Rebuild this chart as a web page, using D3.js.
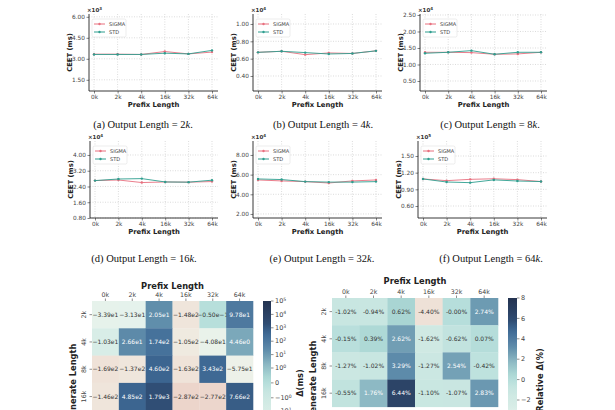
<!DOCTYPE html>
<html><head><meta charset="utf-8">
<script src="https://cdn.jsdelivr.net/npm/d3@7"></script>
<style>
body{margin:0;background:#fff;}
svg{display:block;font-family:"DejaVu Sans",sans-serif;}
</style>
</head><body>
<svg id="chart" width="615" height="410"></svg>
<script>
// ---------------- data ----------------
const prefixes = ["0k","2k","4k","16k","32k","64k"];
const seriesNames = ["SIGMA","STD"];
const outputLengths = ["2","4","8","16","32","64"];
const panelLetters = ["a","b","c","d","e","f"];
const scaleExponents = [3,4,4,4,4,5];

// CEET (ms), in units of 10^exponent
const sigma2k  = [3.33,3.33,3.31,3.52,3.35,3.48];
const std2k    = [3.31,3.31,3.31,3.40,3.35,3.60];
const sigma4k  = [0.673,0.685,0.646,0.666,0.660,0.690];
const std4k    = [0.673,0.685,0.670,0.654,0.660,0.690];
const sigma8k  = [1.37,1.37,1.36,1.31,1.32,1.37];
const std8k    = [1.34,1.37,1.42,1.31,1.37,1.37];
const sigma16k = [2.70,2.73,2.60,2.63,2.62,2.65];
const std16k   = [2.70,2.78,2.80,2.63,2.62,2.72];
const sigma32k = [5.46,5.36,5.29,5.15,5.36,5.46];
const std32k   = [5.56,5.50,5.29,5.24,5.24,5.29];
const sigma64k = [1.087,1.056,1.080,1.090,1.075,1.040];
const std64k   = [1.087,1.032,1.020,1.070,1.050,1.040];

const yLimits2k = [0.70,6.20],  yTicks2k = [1.5,3.0,4.5,6.0];
const yLimits4k = [0.227,1.115], yTicks4k = [0.4,0.6,0.8,1.0];
const yLimits8k = [0.197,2.53],  yTicks8k = [0.5,1.0,1.5,2.0,2.5];
const yLimits16k = [0.80,4.71],  yTicks16k = [0.8,1.6,2.4,3.2,4.0];
const yLimits32k = [1.59,9.42],  yTicks32k = [2,4,6,8];
const yLimits64k = [0.384,1.77], yTicks64k = [0.6,0.9,1.2,1.5];

// heatmaps
const genLengths = ["2k","4k","8k","16k"];
const deltaMs = [
  [-33.9,-31.3,20.5,-148,-0.05,97.8],
  [-10.3,26.6,174,-105,-40.8,4.46],
  [-169,-137,460,-163,343,-57.5],
  [-146,485,1790,-287,-277,766]
];
const deltaLabels = [
  ["−3.39e1","−3.13e1","2.05e1","−1.48e2","−0.50e−1","9.78e1"],
  ["−1.03e1","2.66e1","1.74e2","−1.05e2","−4.08e1","4.46e0"],
  ["−1.69e2","−1.37e2","4.60e2","−1.63e2","3.43e2","−5.75e1"],
  ["−1.46e2","4.85e2","1.79e3","−2.87e2","−2.77e2","7.66e2"]
];
const relDelta = [
  [-1.02,-0.94,0.62,-4.40,-0.00,2.74],
  [-0.15,0.39,2.62,-1.62,-0.62,0.07],
  [-1.27,-1.02,3.29,-1.27,2.54,-0.42],
  [-0.55,1.76,6.44,-1.10,-1.07,2.83]
];
const relLabels = [
  ["-1.02%","-0.94%","0.62%","-4.40%","-0.00%","2.74%"],
  ["-0.15%","0.39%","2.62%","-1.62%","-0.62%","0.07%"],
  ["-1.27%","-1.02%","3.29%","-1.27%","2.54%","-0.42%"],
  ["-0.55%","1.76%","6.44%","-1.10%","-1.07%","2.83%"]
];
const deltaCbTicks = [1e5,1e4,1e3,1e2,1e1,1,0,-1,-10];
const relCbTicks = [8,6,4,2,0,-2];

// ---------------- styles / layout ----------------
const colSigma = "#e8707f", colStd = "#2f9e8f";
const svg = d3.select("#chart");

const sigmaSets = [sigma2k,sigma4k,sigma8k,sigma16k,sigma32k,sigma64k];
const stdSets = [std2k,std4k,std8k,std16k,std32k,std64k];
const limitSets = [yLimits2k,yLimits4k,yLimits8k,yLimits16k,yLimits32k,yLimits64k];
const tickSets = [yTicks2k,yTicks4k,yTicks8k,yTicks16k,yTicks32k,yTicks64k];
const boxes = [
  {l:89,r:218,t:14,b:91},{l:253,r:382,t:14,b:91},{l:420,r:547,t:14,b:91},
  {l:90,r:218,t:141,b:218},{l:253,r:382,t:141,b:218},{l:418,r:547,t:141,b:218}
];
const captionPos = [[143,128],[323,128],[490,128],[144,262],[322,262],[491,262]];

function linePanel(i){
  const box = boxes[i];
  const g = svg.append("g");
  const x = d3.scalePoint().domain(prefixes).range([box.l+5, box.r-6]);
  const y = d3.scaleLinear().domain(limitSets[i]).range([box.b, box.t]);
  g.selectAll(".vg").data(prefixes).enter().append("line")
    .attr("x1",d=>x(d)).attr("x2",d=>x(d)).attr("y1",box.t).attr("y2",box.b)
    .attr("stroke","#c4c4c4").attr("stroke-width",0.6).attr("stroke-dasharray","1,1.5");
  g.selectAll(".hg").data(tickSets[i]).enter().append("line")
    .attr("x1",box.l).attr("x2",box.r).attr("y1",d=>y(d)).attr("y2",d=>y(d))
    .attr("stroke","#c4c4c4").attr("stroke-width",0.6).attr("stroke-dasharray","1,1.5");
  const ax = g.append("g").attr("transform",`translate(${box.l},0)`)
    .call(d3.axisLeft(y).tickValues(tickSets[i]).tickFormat(d3.format(".2f")).tickSize(2.5).tickPadding(1.5));
  ax.select(".domain").remove();
  const bx = g.append("g").attr("transform",`translate(0,${box.b})`)
    .call(d3.axisBottom(x).tickSize(2.5).tickPadding(1.5));
  bx.select(".domain").remove();
  [ax,bx].forEach(a=>{
    a.selectAll("text").attr("font-size",5.8).attr("fill","#444").attr("font-family","DejaVu Sans");
    a.selectAll("line").attr("stroke","#333").attr("stroke-width",0.6);
  });
  g.append("line").attr("x1",box.l).attr("x2",box.l).attr("y1",box.t).attr("y2",box.b)
    .attr("stroke","#222").attr("stroke-width",0.9);
  g.append("line").attr("x1",box.l).attr("x2",box.r).attr("y1",box.b).attr("y2",box.b)
    .attr("stroke","#222").attr("stroke-width",0.9);
  const line = d3.line().x((d,j)=>x(prefixes[j])).y(d=>y(d));
  [[sigmaSets[i],colSigma],[stdSets[i],colStd]].forEach(([vals,c])=>{
    g.append("path").datum(vals).attr("d",line).attr("fill","none")
      .attr("stroke",c).attr("stroke-width",1).attr("stroke-opacity",0.9);
    g.selectAll(null).data(vals).enter().append("circle")
      .attr("cx",(d,j)=>x(prefixes[j])).attr("cy",d=>y(d)).attr("r",1.2).attr("fill",c);
  });
  const lg = g.append("g");
  lg.append("rect").attr("x",box.l+3).attr("y",box.t+5).attr("width",34).attr("height",18)
    .attr("rx",1.5).attr("fill","#fff").attr("fill-opacity",0.85).attr("stroke","#d8d8d8").attr("stroke-width",0.5);
  seriesNames.forEach((n,k)=>{
    const yy = box.t+10+k*8;
    const c = k===0?colSigma:colStd;
    lg.append("line").attr("x1",box.l+5).attr("x2",box.l+16).attr("y1",yy).attr("y2",yy)
      .attr("stroke",c).attr("stroke-width",1);
    lg.append("circle").attr("cx",box.l+10.5).attr("cy",yy).attr("r",1.2).attr("fill",c);
    lg.append("text").attr("x",box.l+20).attr("y",yy).attr("dy","0.35em")
      .attr("font-size",5).attr("fill","#444").text(n);
  });
  const mt = g.append("text").attr("x",box.l-2).attr("y",box.t-2).attr("font-size",5.5)
    .attr("font-weight","bold").attr("fill","#333");
  mt.append("tspan").text("×10");
  mt.append("tspan").attr("dy",-2).attr("font-size",4).text(scaleExponents[i]);
  g.append("text").attr("transform",`translate(${box.l-19},${(box.t+box.b)/2}) rotate(-90)`)
    .attr("text-anchor","middle").attr("dy","0.35em").attr("font-size",6.8).attr("font-weight","bold")
    .attr("fill","#222").text("CEET (ms)");
  g.append("text").attr("x",(box.l+box.r)/2).attr("y",box.b+15.5).attr("text-anchor","middle")
    .attr("font-size",6.8).attr("font-weight","bold").attr("fill","#222").text("Prefix Length");
  const cp = captionPos[i];
  const ct = g.append("text").attr("x",cp[0]).attr("y",cp[1]).attr("text-anchor","middle")
    .attr("font-family","'Liberation Serif','Times New Roman',serif").attr("font-size",10.5).attr("fill","#111");
  ct.append("tspan").text(`(${panelLetters[i]}) Output Length = ${outputLengths[i]}`);
  ct.append("tspan").attr("font-style","italic").text("k");
  ct.append("tspan").text(".");
}
for(let i=0;i<6;i++) linePanel(i);

// ---------------- colormap ----------------
const cmapStops = [0.0,0.1,0.2,0.23,0.26,0.29,0.33,0.40,0.45,0.50,0.54,0.61,0.65,0.70,0.75,0.78,0.81,0.86,0.90,1.0];
const cmapColors = ["#c96f69","#e0a79e","#ebd0c6","#efe4da","#eff1e8","#e4f2ec","#d7ede7","#cfe9e3","#c6e5e0",
  "#b6dedb","#a9d5d3","#8db9c4","#78a5b8","#5f8dab","#4f7aa0","#44709a","#3c6590","#2f4d73","#2c4468","#233350"];
const cmap = d3.scaleLinear().domain(cmapStops).range(cmapColors).interpolate(d3.interpolateRgb).clamp(true);

const LS = 1/(1-0.1);
function symlogT(v){ const a=Math.abs(v); return a<=1 ? v*LS : Math.sign(v)*(LS+Math.log10(a)); }
const symMax = symlogT(1e5);

function heatmap(opt){
  const g = svg.append("g");
  const xb = d3.scaleBand().domain(prefixes).range([opt.l,opt.r]);
  const yb = d3.scaleBand().domain(genLengths).range([opt.t,opt.t+opt.rowH*genLengths.length]);
  opt.values.forEach((row,ri)=>{
    row.forEach((v,ci)=>{
      const u = opt.toU(v);
      g.append("rect").attr("x",xb(prefixes[ci])).attr("y",yb(genLengths[ri]))
        .attr("width",xb.bandwidth()+0.3).attr("height",yb.bandwidth()+0.3).attr("fill",cmap(u));
      g.append("text").attr("x",xb(prefixes[ci])+xb.bandwidth()/2).attr("y",yb(genLengths[ri])+yb.bandwidth()/2)
        .attr("dy","0.35em").attr("text-anchor","middle").attr("font-size",6)
        .attr("fill",u>0.58?"#ffffff":"#333").text(opt.labels[ri][ci]);
    });
  });
  prefixes.forEach(p=>{
    const cx = xb(p)+xb.bandwidth()/2;
    g.append("line").attr("x1",cx).attr("x2",cx).attr("y1",opt.t).attr("y2",opt.t-2.5).attr("stroke","#444").attr("stroke-width",0.6);
    g.append("text").attr("x",cx).attr("y",opt.t-4).attr("text-anchor","middle").attr("font-size",6.3).attr("fill","#444").text(p);
  });
  genLengths.forEach(r=>{
    const cy = yb(r)+yb.bandwidth()/2;
    g.append("line").attr("x1",opt.l).attr("x2",opt.l-2.5).attr("y1",cy).attr("y2",cy).attr("stroke","#444").attr("stroke-width",0.6);
    g.append("text").attr("transform",`translate(${opt.l-6},${cy}) rotate(-90)`).attr("text-anchor","middle")
      .attr("font-size",6.3).attr("fill","#444").text(r);
  });
  g.append("text").attr("x",(opt.l+opt.r)/2).attr("y",opt.titleY).attr("text-anchor","middle")
    .attr("font-size",8.3).attr("font-weight","bold").attr("fill","#222").text("Prefix Length");
  g.append("text").attr("transform",`translate(${opt.ylabX},${opt.ylabY}) rotate(-90)`).attr("text-anchor","middle")
    .attr("dy","0.35em").attr("font-size",8.3).attr("font-weight","bold").attr("fill","#222").text("Generate Length");
  const cbH = opt.rowH*6;
  const gid = "grad"+opt.id;
  const grad = svg.append("defs").append("linearGradient").attr("id",gid)
    .attr("x1",0).attr("y1",1).attr("x2",0).attr("y2",0);
  d3.range(0,1.0001,0.02).forEach(s=>grad.append("stop").attr("offset",s).attr("stop-color",cmap(s)));
  g.append("rect").attr("x",opt.cbX).attr("y",opt.t).attr("width",opt.cbW).attr("height",cbH).attr("fill",`url(#${gid})`);
  const cy = d3.scaleLinear().domain(opt.cbDomain).range([opt.t+cbH,opt.t]);
  opt.cbTicks.forEach(tv=>{
    const yy = cy(opt.cbT(tv));
    g.append("line").attr("x1",opt.cbX+opt.cbW).attr("x2",opt.cbX+opt.cbW+2.5).attr("y1",yy).attr("y2",yy)
      .attr("stroke","#444").attr("stroke-width",0.6);
    const t = g.append("text").attr("x",opt.cbX+opt.cbW+4).attr("y",yy).attr("dy","0.35em")
      .attr("font-size",6.5).attr("fill","#444");
    opt.cbFmt(t,tv);
  });
  g.append("text").attr("transform",`translate(${opt.cbLabX},${opt.ylabY}) rotate(-90)`).attr("text-anchor","middle")
    .attr("dy","0.35em").attr("font-size",8.3).attr("font-weight","bold").attr("fill","#222").text(opt.cbLabel);
}

heatmap({
  id:"L", l:92, r:253, t:301, rowH:27.3, values:deltaMs, labels:deltaLabels,
  toU:v=>(symlogT(v)+symMax)/(2*symMax),
  titleY:289, ylabX:73, ylabY:383,
  cbX:263, cbW:8, cbDomain:[-symMax,symMax], cbT:symlogT, cbTicks:deltaCbTicks,
  cbFmt:(t,v)=>{
    if(v===0){t.text("0");return;}
    const e = Math.round(Math.log10(Math.abs(v)));
    t.append("tspan").text((v<0?"−":"")+"10");
    t.append("tspan").attr("dy",-2.5).attr("font-size",4.6).text(e);
  },
  cbLabX:300, cbLabel:"Δ(ms)"
});
heatmap({
  id:"R", l:332, r:498, t:298, rowH:27.2, values:relDelta, labels:relLabels,
  toU:v=>(v+8)/16,
  titleY:284, ylabX:313, ylabY:380,
  cbX:508, cbW:9, cbDomain:[-8,8], cbT:v=>v, cbTicks:relCbTicks,
  cbFmt:(t,v)=>t.text(v<0?"−"+Math.abs(v):String(v)),
  cbLabX:540, cbLabel:"Relative Δ(%)"
});
</script>
</body></html>
